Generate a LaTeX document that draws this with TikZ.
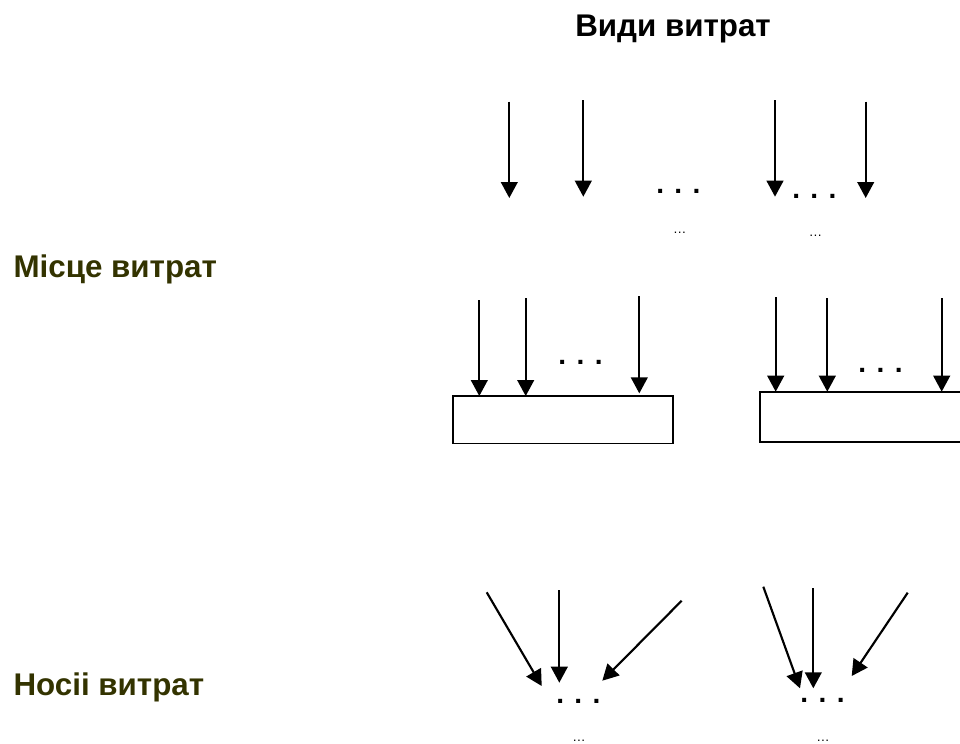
\documentclass[tikz,border=0pt]{standalone}
\usepackage{fontspec}
\setmainfont{Liberation Sans}
\usetikzlibrary{arrows.meta}
\definecolor{olivetxt}{HTML}{333300}
\tikzset{
  arr/.style={-{Triangle[width=12.5pt,length=12pt]}, line width=1.6pt},
  title/.style={font=\bfseries\fontsize{23.5}{28}\selectfont, inner sep=0pt, anchor=base west},
  side/.style={title, text=olivetxt},
  bigdots/.style={font=\bfseries\fontsize{21}{25}\selectfont, inner sep=0pt, anchor=base},
  smalldots/.style={font=\fontsize{10}{12}\selectfont, inner sep=0pt, anchor=base},
  box/.style={draw, line width=1.3pt, inner sep=0pt, outer sep=0pt}
}
\begin{document}
\begin{tikzpicture}[x=0.75pt,y=-0.75pt]
\useasboundingbox (0,0) rectangle (960,743);
% labels
\node[title] (vydy) at (575,36.7) {Види витрат};
\node[side] (mistse) at (13.3,277.3) {Місце витрат};
\node[side] (nosii) at (13.3,695.7) {Носіі витрат};
% top row
\coordinate (t1s) at (509.3,101.7); \coordinate (t1e) at (509.3,198);
\coordinate (t2s) at (583.3,100);   \coordinate (t2e) at (583.3,196.7);
\coordinate (t3s) at (775,100);     \coordinate (t3e) at (775,196.7);
\coordinate (t4s) at (865.7,101.7); \coordinate (t4e) at (865.7,198);
\draw[arr] (t1s) -- (t1e);
\draw[arr] (t2s) -- (t2e);
\draw[arr] (t3s) -- (t3e);
\draw[arr] (t4s) -- (t4e);
\node[bigdots] (td1) at (678.3,193.5) {. . .};
\node[bigdots] (td2) at (814.3,198.2) {. . .};
\node[smalldots] (ts1) at (679.8,233) {…};
\node[smalldots] (ts2) at (815.5,236.3) {…};
% boxes
\node[box, minimum width=165pt, minimum height=35.5pt] (b1) at (563.3,419.7) {};
\node[box, minimum width=153.75pt, minimum height=37.5pt] (b2) at (862.5,416.7) {};
\coordinate (m1) at (479.3,300);
\coordinate (m2) at (525.7,298.3);
\coordinate (m3) at (639.3,296);
\coordinate (m4) at (775.7,297.3);
\coordinate (m5) at (827.3,298.3);
\coordinate (m6) at (941.7,298.3);
\draw[arr] (m1) -- (m1 |- b1.north);
\draw[arr] (m2) -- (m2 |- b1.north);
\draw[arr] (m3) -- ([yshift=2pt]m3 |- b1.north);
\draw[arr] (m4) -- (m4 |- b2.north);
\draw[arr] (m5) -- (m5 |- b2.north);
\draw[arr] (m6) -- (m6 |- b2.north);
\node[bigdots] (md1) at (580.5,364.2) {. . .};
\node[bigdots] (md2) at (880.5,372.2) {. . .};
% bottom row
\coordinate (ba1) at (486.7,592.3); \coordinate (ba2) at (541.7,686);
\coordinate (bb1) at (559.3,590);   \coordinate (bb2) at (559.3,682.7);
\coordinate (bc1) at (681.7,600.7); \coordinate (bc2) at (602.3,680.7);
\coordinate (bd1) at (763.3,586.7); \coordinate (bd2) at (800,688.3);
\coordinate (be1) at (813.3,588.3); \coordinate (be2) at (813.3,688.3);
\coordinate (bf1) at (907.7,592.7); \coordinate (bf2) at (851.7,676);
\draw[arr] (ba1) -- (ba2);
\draw[arr] (bb1) -- (bb2);
\draw[arr] (bc1) -- (bc2);
\draw[arr] (bd1) -- (bd2);
\draw[arr] (be1) -- (be2);
\draw[arr] (bf1) -- (bf2);
\node[bigdots] (bd1t) at (578.3,703.8) {. . .};
\node[bigdots] (bd2t) at (822.5,702.5) {. . .};
\node[smalldots] (bs1) at (579,741) {…};
\node[smalldots] (bs2) at (823,741) {…};
\end{tikzpicture}
\end{document}
